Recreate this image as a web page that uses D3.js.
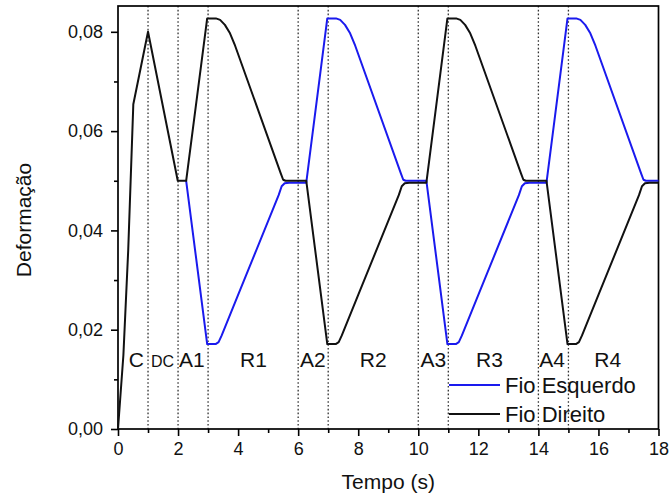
<!DOCTYPE html>
<html><head><meta charset="utf-8">
<script src="https://cdn.jsdelivr.net/npm/d3@7"></script>
<style>
html,body{margin:0;padding:0;background:#fff;}
svg{display:block;font-family:"Liberation Sans",Arial,sans-serif;}
</style></head>
<body>
<svg id="chart" width="671" height="499"></svg>
<script>
// ---- Data ----
const direitoT = [0,0.07,0.18,0.34,0.51,1.0,1.99,2.27,
  2.97,3.26,3.40,3.56,3.73,3.90,5.42,5.50,5.58,6.27,
  6.97,7.25,7.35,7.45,8.00,9.35,9.45,9.55,9.70,10.27,
  10.97,11.26,11.40,11.56,11.73,11.90,13.42,13.50,13.58,14.27,
  14.97,15.25,15.35,15.45,16.00,17.35,17.45,17.55,17.70,18.00];
const direitoY = [0,0.0058,0.0149,0.036,0.0654,0.0800,0.0500,0.0500,
  0.0827,0.0827,0.0824,0.0814,0.0797,0.0772,0.0515,0.0502,0.0500,0.0500,
  0.0171,0.0171,0.0175,0.0188,0.0270,0.0471,0.0489,0.0495,0.0496,0.0496,
  0.0827,0.0827,0.0824,0.0814,0.0797,0.0772,0.0515,0.0502,0.0500,0.0500,
  0.0171,0.0171,0.0175,0.0188,0.0270,0.0471,0.0489,0.0495,0.0496,0.0496];
const esquerdoT = [2.27,
  2.97,3.25,3.35,3.45,4.00,5.35,5.45,5.55,5.70,6.27,
  6.97,7.26,7.40,7.56,7.73,7.90,9.42,9.50,9.58,10.27,
  10.97,11.25,11.35,11.45,12.00,13.35,13.45,13.55,13.70,14.27,
  14.97,15.26,15.40,15.56,15.73,15.90,17.42,17.50,17.58,18.00];
const esquerdoY = [0.0500,
  0.0171,0.0171,0.0175,0.0188,0.0270,0.0471,0.0489,0.0495,0.0496,0.0496,
  0.0827,0.0827,0.0824,0.0814,0.0797,0.0772,0.0515,0.0502,0.0500,0.0500,
  0.0171,0.0171,0.0175,0.0188,0.0270,0.0471,0.0489,0.0495,0.0496,0.0496,
  0.0827,0.0827,0.0824,0.0814,0.0797,0.0772,0.0515,0.0502,0.0500,0.0500];
const phaseLines = [1,2,3,6,7,10,11,14,15];
const phaseNames = ["C","DC","A1","R1","A2","R2","A3","R3","A4","R4"];
const phaseCenters = [0.61,1.48,2.46,4.51,6.49,8.5,10.5,12.37,14.46,16.31];
const xTicks = [0,2,4,6,8,10,12,14,16,18];
const xMinor = [1,3,5,7,9,11,13,15,17];
const yTicks = [0,0.02,0.04,0.06,0.08];
const yMinor = [0.01,0.03,0.05,0.07];
const seriesNames = ["Fio Esquerdo","Fio Direito"];
const seriesColors = ["#1a1aee","#111111"];

// ---- Layout ----
const svg = d3.select("#chart");
const L = 118, R = 658.5, T = 6, B = 429;
const x = d3.scaleLinear().domain([0,18]).range([L,R]);
const y = d3.scaleLinear().domain([0,0.0852]).range([B,T]);
const fmtY = d => d3.format(".2f")(d).replace(".",",");

// dotted phase lines
svg.append("g").selectAll("line").data(phaseLines).join("line")
  .attr("x1",d=>x(d)).attr("x2",d=>x(d)).attr("y1",T).attr("y2",B)
  .attr("stroke","#333").attr("stroke-width",1.3).attr("stroke-dasharray","1.6,2.2");

// axes
svg.append("g").attr("transform",`translate(0,${B})`)
  .call(d3.axisBottom(x).tickValues(xTicks).tickSize(7).tickPadding(6).tickFormat(d3.format("d")));
svg.append("g").attr("transform",`translate(0,${B})`)
  .call(d3.axisBottom(x).tickValues(xMinor).tickSize(4).tickFormat(""));
svg.append("g").attr("transform",`translate(${L},0)`)
  .call(d3.axisLeft(y).tickValues(yTicks).tickSize(7).tickPadding(8).tickFormat(fmtY));
svg.append("g").attr("transform",`translate(${L},0)`)
  .call(d3.axisLeft(y).tickValues(yMinor).tickSize(4).tickFormat(""));
svg.selectAll(".tick line").attr("stroke","#000").attr("stroke-width",1.6);
svg.selectAll(".tick text").attr("font-size",18).attr("fill","#111")
  .attr("font-family","'Liberation Sans',Arial,sans-serif");
svg.selectAll(".domain").remove();

// frame
svg.append("rect").attr("x",L).attr("y",T).attr("width",R-L).attr("height",B-T)
  .attr("fill","none").attr("stroke","#000").attr("stroke-width",1.7);

// curves
const line = d3.line().x(d=>x(d[0])).y(d=>y(d[1]));
const esq = esquerdoT.map((t,i)=>[t,esquerdoY[i]]);
const dir = direitoT.map((t,i)=>[t,direitoY[i]]);
svg.append("path").datum(esq).attr("d",line).attr("fill","none")
  .attr("stroke",seriesColors[0]).attr("stroke-width",2).attr("stroke-linejoin","round");
svg.append("path").datum(dir).attr("d",line).attr("fill","none")
  .attr("stroke",seriesColors[1]).attr("stroke-width",2).attr("stroke-linejoin","round");

// phase labels
svg.append("g").selectAll("text").data(phaseNames).join("text")
  .attr("x",(d,i)=>x(phaseCenters[i])).attr("y",366.5)
  .attr("text-anchor","middle").attr("fill","#111")
  .attr("font-size",d=>d==="DC"?16:21).text(d=>d);

// legend
const lg = svg.append("g");
seriesNames.forEach((n,i)=>{
  const yy = 385 + i*29;
  lg.append("line").attr("x1",449).attr("x2",500).attr("y1",yy).attr("y2",yy)
    .attr("stroke",seriesColors[i]).attr("stroke-width",2);
  lg.append("text").attr("x",505).attr("y",yy+7.5).attr("font-size",22).attr("fill","#111").text(n);
});

// axis titles
svg.append("text").attr("x",(L+R)/2).attr("y",489).attr("text-anchor","middle")
  .attr("font-size",21).attr("fill","#111").text("Tempo (s)");
svg.append("text").attr("transform","translate(31,220) rotate(-90)").attr("text-anchor","middle")
  .attr("font-size",21).attr("fill","#111").text("Deformação");
</script>
</body></html>
